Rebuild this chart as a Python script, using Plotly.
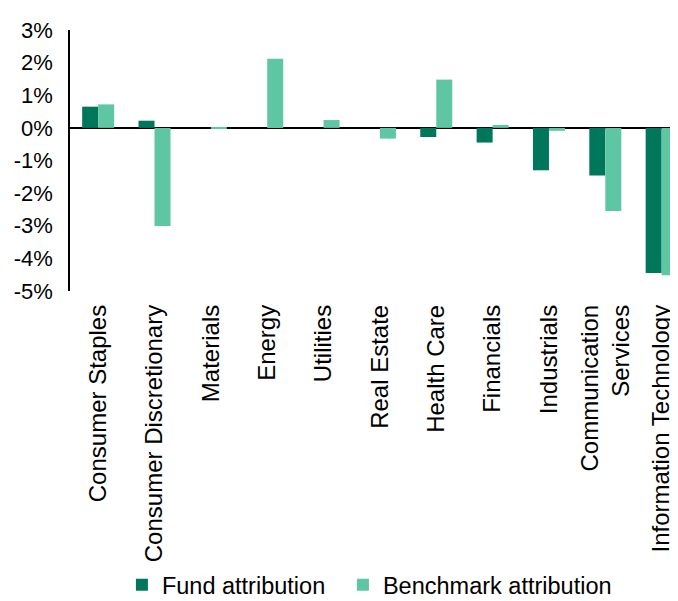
import plotly.graph_objects as go

categories = ["Consumer Staples", "Consumer Discretionary", "Materials", "Energy",
              "Utilities", "Real Estate", "Health Care", "Financials", "Industrials",
              "Communication<br>Services", "Information Technology"]
fund = [0.65, 0.22, 0.0, 0.0, 0.0, 0.0, -0.28, -0.45, -1.30, -1.46, -4.45]
benchmark = [0.72, -3.01, -0.02, 2.12, 0.24, -0.33, 1.48, 0.09, -0.09, -2.55, -4.52]
y_ticks = [3, 2, 1, 0, -1, -2, -3, -4, -5]
y_tick_labels = [f"{v}%" for v in y_ticks]

FONT = "Liberation Sans, Arial, sans-serif"

fig = go.Figure()
fig.add_bar(x=categories, y=fund, name="Fund attribution", legend="legend",
            marker=dict(color="#00775A", line=dict(width=0)))
fig.add_bar(x=categories, y=benchmark, name="Benchmark attribution", legend="legend2",
            marker=dict(color="#5FC6A4", line=dict(width=0)))

legend_common = dict(orientation="h", xanchor="left", xref="container",
                     y=0.04, yanchor="middle", yref="container",
                     font=dict(size=23.5, family=FONT, color="black"),
                     itemwidth=30, bgcolor="rgba(0,0,0,0)")

fig.update_layout(
    width=678, height=601,
    margin=dict(l=62, r=8, t=22, b=318, autoexpand=False),
    paper_bgcolor="white", plot_bgcolor="white",
    barmode="group", bargap=0.432, bargroupgap=0,
    font=dict(family=FONT, color="black"),
    showlegend=True,
    legend=dict(x=0.168, **legend_common),
    legend2=dict(x=0.494, **legend_common),
)
fig.update_xaxes(
    range=[-0.5, 10.29], tickangle=-90, tickfont=dict(size=24, family=FONT),
    showgrid=False, showline=False, ticks="", ticklabelstandoff=8,
    automargin=False,
)
fig.update_yaxes(
    range=[-5, 3], tickvals=y_ticks, ticktext=y_tick_labels,
    tickfont=dict(size=22, family=FONT), showgrid=False,
    showline=True, linecolor="black", linewidth=1.5,
    zeroline=True, zerolinecolor="black", zerolinewidth=2,
    ticks="", ticklabelstandoff=11, automargin=False,
)

fig.write_html("out.html")
